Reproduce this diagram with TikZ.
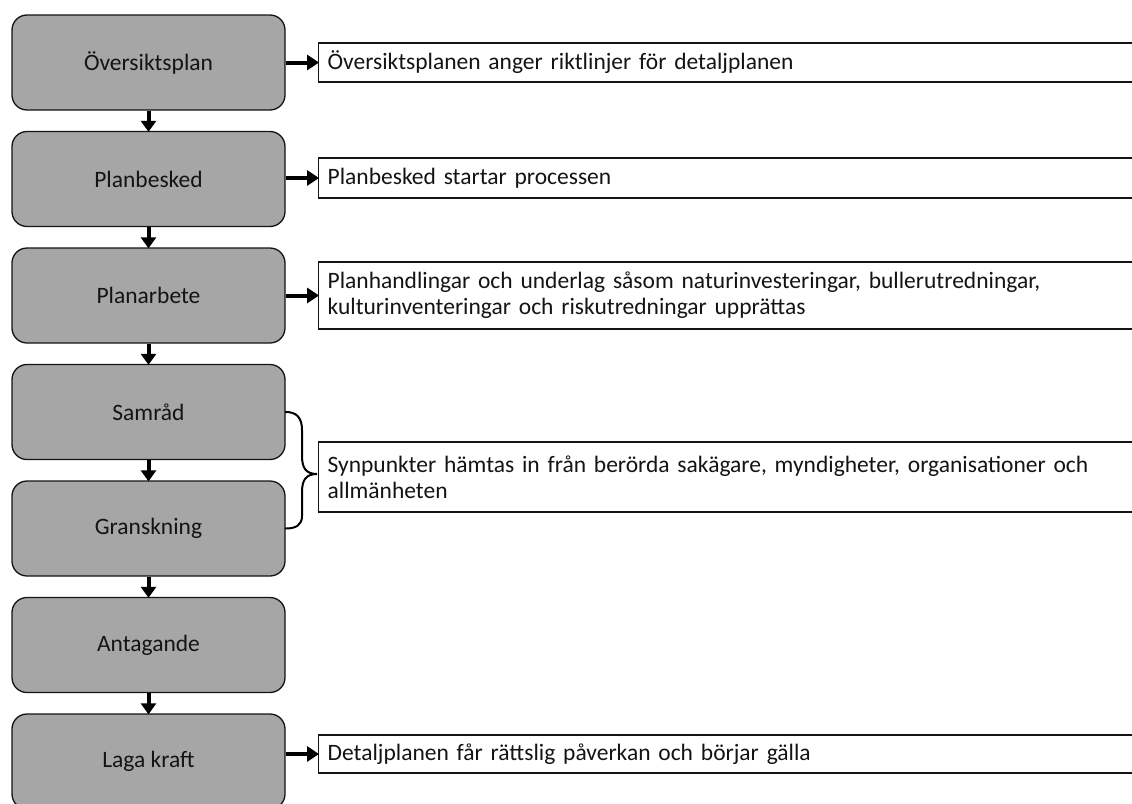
\documentclass[tikz,border=0pt]{standalone}
\usepackage{fontspec}
\setmainfont{Carlito}
\usetikzlibrary{arrows.meta,calc}
\definecolor{boxgray}{HTML}{A6A6A6}
\definecolor{ink}{HTML}{141414}
\begin{document}
\begin{tikzpicture}[x=1pt,y=-1pt,
  stage/.style={draw=ink, line width=1.3pt, fill=boxgray, rounded corners=15pt,
    minimum width=273pt, minimum height=95pt, inner sep=0pt,
    font=\fontsize{23.5}{26}\selectfont, text=ink},
  note/.style={draw=ink, line width=1.3pt, fill=white, anchor=west,
    text width=812pt, inner xsep=9pt, inner ysep=0pt, align=left,
    font=\fontsize{23.5}{26}\selectfont, text=ink},
  flow/.style={line width=4pt, draw=black, -{Triangle[length=11pt,width=15pt]}, shorten >=-1pt},
  side/.style={line width=4pt, draw=black, -{Triangle[length=12pt,width=15pt]}, shorten >=-1pt}
]
\useasboundingbox (0,0) rectangle (1132,803);
\clip (0,0) rectangle (1132,803);
\fill[white] (0,0) rectangle (1132,803);

\node[stage] (s1) at (148.5,62.5) {Översiktsplan};
\node[stage] (s2) at (148.5,179) {Planbesked};
\node[stage] (s3) at (148.5,295.5) {Planarbete};
\node[stage] (s4) at (148.5,412) {Samråd};
\node[stage] (s5) at (148.5,528.5) {Granskning};
\node[stage] (s6) at (148.5,645) {Antagande};
\node[stage] (s7) at (148.5,761.5) {Laga kraft};

\node[note, minimum height=39pt] (n1) at (318,62.5) {Översiktsplanen anger riktlinjer för detaljplanen};
\node[note, minimum height=40pt] (n2) at (318,178) {Planbesked startar processen};
\node[note, minimum height=67pt] (n3) at (318,295.5) {Planhandlingar och underlag såsom naturinvesteringar, bullerutredningar,\\kulturinventeringar och riskutredningar upprättas};
\node[note, minimum height=70pt] (n4) at (318,477) {Synpunkter hämtas in från berörda sakägare, myndigheter, organisationer och\\allmänheten};
\node[note, minimum height=38pt] (n7) at (318,754) {Detaljplanen får rättslig påverkan och börjar gälla};

\draw[flow] (s1.south) -- (s2.north);
\draw[flow] (s2.south) -- (s3.north);
\draw[flow] (s3.south) -- (s4.north);
\draw[flow] (s4.south) -- (s5.north);
\draw[flow] (s5.south) -- (s6.north);
\draw[flow] (s6.south) -- (s7.north);

\draw[side] (s1.east) -- (n1.west);
\draw[side] (s2.east |- n2.west) -- (n2.west);
\draw[side] (s3.east) -- (n3.west);
\draw[side] (s7.east |- n7.west) -- (n7.west);

\coordinate (tip) at ($(n4.west)+(-1,-3)$);
\draw[line width=2pt, line cap=round] (s4.east)
  .. controls (296,412) and (302,417) .. (302,430) -- (302,456)
  .. controls (302,468) and (306,474) .. (tip)
  .. controls (306,474) and (302,480) .. (302,492) -- (302,516)
  .. controls (302,525) and (296,528.5) .. (s5.east);
\end{tikzpicture}
\end{document}
